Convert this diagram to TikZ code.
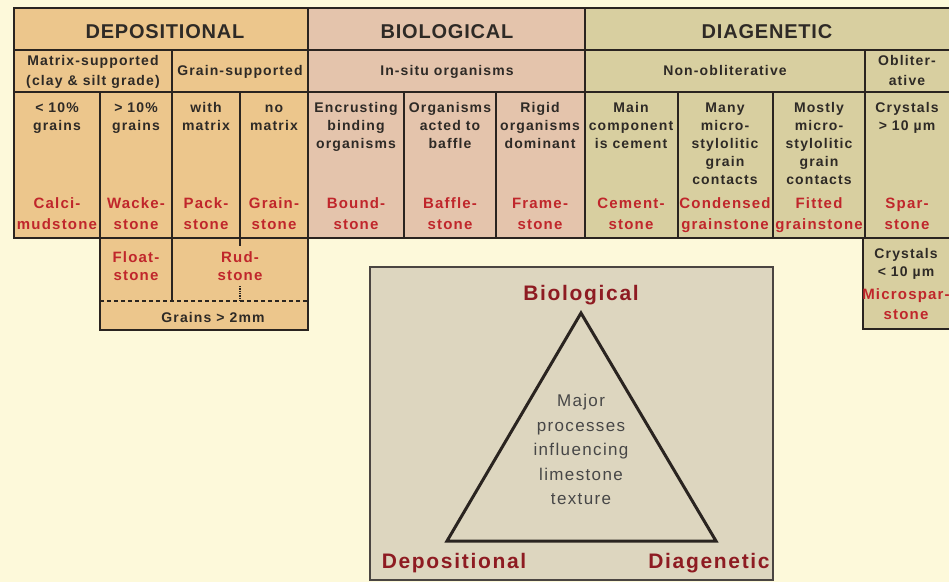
\documentclass[tikz,border=0pt]{standalone}
\usepackage{fontspec}
\setmainfont{Liberation Sans}[LetterSpace=8]
\newcommand\myph{\vphantom{Ah}}
\definecolor{bgc}{HTML}{FDF9DA}
\definecolor{depc}{HTML}{ECC68C}
\definecolor{bioc}{HTML}{E4C4AC}
\definecolor{diac}{HTML}{D8CFA0}
\definecolor{tric}{HTML}{DDD6BF}
\definecolor{ink}{HTML}{2A2420}
\definecolor{redA}{HTML}{C0262B}
\definecolor{redB}{HTML}{8E1B22}
\definecolor{txtc}{HTML}{2E2A26}
\tikzset{
  heavy/.style={draw=ink, line width=2.5pt},
  medium/.style={draw=ink, line width=1.8pt},
  light/.style={draw=ink, line width=1.3pt},
  headtxt/.style={font=\fontsize{20}{24}\selectfont\bfseries\addfontfeature{LetterSpace=4}, text=txtc, inner sep=0, anchor=base},
  subtxt/.style={font=\fontsize{14}{20}\selectfont\bfseries, text=txtc, align=center, inner sep=0, anchor=north},
  subone/.style={font=\fontsize{14}{20}\selectfont\bfseries, text=txtc, inner sep=0, anchor=base},
  desctxt/.style={font=\fontsize{14}{18}\selectfont\bfseries, text=txtc, align=center, inner sep=0, anchor=north},
  rocktxt/.style={font=\fontsize{15}{21}\selectfont\bfseries, text=redA, align=center, inner sep=0, anchor=north},
  rocklow/.style={font=\fontsize{15}{18}\selectfont\bfseries, text=redA, align=center, inner sep=0, anchor=north},
  bigtxt/.style={font=\fontsize{21}{24}\selectfont\bfseries, text=redB, inner sep=0, anchor=base},
  innertxt/.style={font=\fontsize{17}{24.5}\selectfont, text=black!72, align=center, inner sep=0, anchor=north},
}
\begin{document}
\begin{tikzpicture}[x=1pt,y=-1pt]
\useasboundingbox (0,0) rectangle (949,582);
\clip (0,0) rectangle (949,582);
\fill[bgc] (0,0) rectangle (949,582);
% fills
\fill[depc] (14,8) rectangle (308,238);
\fill[bioc] (308,8) rectangle (585,238);
\fill[diac] (585,8) rectangle (956,238);
\fill[depc] (100,238) rectangle (308,330);
\fill[diac] (863,238) rectangle (956,329);
% table lines
\draw[medium] (14,50) -- (956,50);
\draw[medium] (14,92) -- (956,92);
\draw[light] (172,50) -- (172,238);
\draw[light] (865,50) -- (865,238);
\draw[heavy] (100,92) -- (100,238);
\draw[light] (240,92) -- (240,238);
\draw[light] (404,92) -- (404,238);
\draw[light] (496,92) -- (496,238);
\draw[light] (678,92) -- (678,238);
\draw[light] (773,92) -- (773,238);
\draw[heavy] (308,8) -- (308,238);
\draw[heavy] (585,8) -- (585,238);
\draw[heavy] (14,8) rectangle (956,238);
% lower boxes
\draw[light] (172,238) -- (172,301);
\draw[light] (240,238) -- (240,246);
\draw[light, densely dotted] (240,286) -- (240,301);
\draw[ink, line width=1.2pt, dashed, dash pattern=on 4pt off 3pt] (100,301) -- (308,301);
\draw[medium] (100,238) -- (100,330) -- (308,330) -- (308,238);
\draw[medium] (863,238) -- (863,329) -- (956,329);
% header texts
\node[headtxt] (hdep) at (165,38) {DEPOSITIONAL};
\node[headtxt] (hbio) at (447,38) {BIOLOGICAL};
\node[headtxt] (hdia) at (767,38) {DIAGENETIC};
% row 2
\node[subtxt] (smat) at (93,55) {\myph Matrix-supported\\(clay \& silt grade)};
\node[subone] (sgrn) at (240,75) {Grain-supported};
\node[subone] (sins) at (447,75) {In-situ organisms};
\node[subone] (snon) at (725,75) {Non-obliterative};
\node[subtxt] (sobl) at (907,55) {\myph Obliter-\\ative};
% row 3 descriptors
\node[desctxt] (d1) at (57,102) {\myph< 10\%\\grains};
\node[desctxt] (d2) at (136,102) {\myph> 10\%\\grains};
\node[desctxt] (d3) at (206,102) {\myph with\\matrix};
\node[desctxt] (d4) at (274,102) {\myph no\\matrix};
\node[desctxt] (d5) at (356,102) {\myph Encrusting\\binding\\organisms};
\node[desctxt] (d6) at (450,102) {\myph Organisms\\acted to\\baffle};
\node[desctxt] (d7) at (540,102) {\myph Rigid\\organisms\\dominant};
\node[desctxt] (d8) at (631,102) {\myph Main\\component\\is cement};
\node[desctxt] (d9) at (725,102) {\myph Many\\micro-\\stylolitic\\grain\\contacts};
\node[desctxt] (d10) at (819,102) {\myph Mostly\\micro-\\stylolitic\\grain\\contacts};
\node[desctxt] (d11) at (907,102) {\myph Crystals\\> 10 µm};
% rock names
\node[rocktxt] (r1) at (57,197) {\myph Calci-\\mudstone};
\node[rocktxt] (r2) at (136,197) {\myph Wacke-\\stone};
\node[rocktxt] (r3) at (206,197) {\myph Pack-\\stone};
\node[rocktxt] (r4) at (274,197) {\myph Grain-\\stone};
\node[rocktxt] (r5) at (356,197) {\myph Bound-\\stone};
\node[rocktxt] (r6) at (450,197) {\myph Baffle-\\stone};
\node[rocktxt] (r7) at (540,197) {\myph Frame-\\stone};
\node[rocktxt] (r8) at (631,197) {\myph Cement-\\stone};
\node[rocktxt] (r9) at (725,197) {\myph Condensed\\grainstone};
\node[rocktxt] (r10) at (819,197) {\myph Fitted\\grainstone};
\node[rocktxt] (r11) at (907,197) {\myph Spar-\\stone};
% lower texts
\node[rocklow] (rfl) at (136,251) {\myph Float-\\stone};
\node[rocklow] (rru) at (240,251) {\myph Rud-\\stone};
\node[subone] (gr2) at (213,322) {Grains > 2mm};
\node[desctxt] (cr10) at (906,248) {\myph Crystals\\< 10 µm};
\node[font=\fontsize{15}{20}\selectfont\bfseries, text=redA, align=center, inner sep=0, anchor=north] (rms) at (906,288) {\myph Microspar-\\stone};
% triangle box
\draw[fill=tric, draw=ink!85, line width=1.4pt] (370,267) rectangle (773,580);
\coordinate (ta) at (581,313);
\coordinate (tl) at (447,541);
\coordinate (tr) at (716,541);
\draw[ink, line width=3pt, line join=miter] (ta) -- (tr) -- (tl) -- cycle;
\node[bigtxt] (lbio) at (581,300) {Biological};
\node[bigtxt] (ldep) at (454,568) {Depositional};
\node[bigtxt] (ldia) at (709,568) {Diagenetic};
\node[innertxt] (mid) at (581,394) {\myph Major\\processes\\influencing\\limestone\\texture};
\end{tikzpicture}
\end{document}
